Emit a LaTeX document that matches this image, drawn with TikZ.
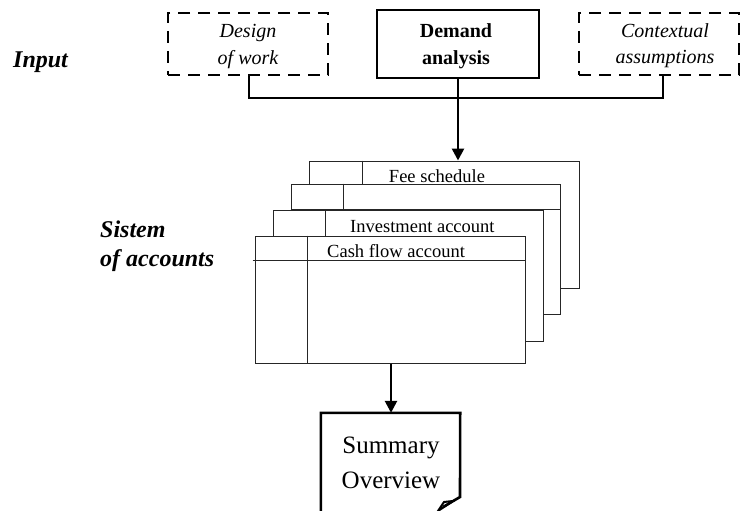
\documentclass[tikz,border=0pt]{standalone}
\usepackage{fontspec}
\setmainfont{Liberation Serif}
\usetikzlibrary{arrows.meta}
\begin{document}
\begin{tikzpicture}[x=1pt,y=-1pt,
  topbox/.style={draw, line width=2.6pt, inner sep=0pt},
  dashbox/.style={topbox, dash pattern=on 12pt off 8pt},
  toptext/.style={anchor=base, align=center, inner sep=0pt, font=\fontsize{20}{27}\selectfont},
  bus/.style={line width=2.6pt},
  flow/.style={line width=2.6pt, -{Triangle[length=12pt,width=12pt]}},
  accbox/.style={draw=black!85, line width=1pt, fill=white, inner sep=0pt, minimum width=270pt, minimum height=127pt},
  accline/.style={draw=black!85, line width=1pt},
  acctext/.style={anchor=base, inner sep=0pt, font=\fontsize{18.5}{22}\selectfont},
  sidelabel/.style={anchor=base west, inner sep=0pt, align=left, font=\fontsize{24}{29}\selectfont\bfseries\itshape}
]
\useasboundingbox (0,0) rectangle (742,511);
\clip (0,0) rectangle (742,511);

% side labels
\node[sidelabel] (input) at (13,67) {Input};
\node[sidelabel] (sistem) at (100,266) {Sistem\\of accounts};

% top boxes
\node[dashbox, minimum width=160pt, minimum height=62pt] (design) at (248,44) {};
\node[toptext, font=\fontsize{20}{27}\selectfont\itshape] (designtext) at (248,65) {Design\\of work};
\node[topbox, minimum width=162pt, minimum height=68pt] (demand) at (458,44) {};
\node[toptext, font=\fontsize{20}{27}\selectfont\bfseries] (demandtext) at (456,65) {Demand\\analysis};
\node[dashbox, minimum width=160pt, minimum height=62pt] (context) at (659,44) {};
\node[toptext, font=\fontsize{20}{27}\selectfont\itshape] (contexttext) at (665,64) {Contextual\\assumptions};

% bus
\coordinate (busl) at (249,98);
\coordinate (busr) at (663,98);
\draw[bus] (design.south -| busl) -- (busl) -- (busr) -- (context.south -| busr);

% stacked accounts
\node[accbox] (acc1) at (444,224.5) {};
\draw[accline] ([xshift=54pt]acc1.north west) -- ([xshift=54pt]acc1.south west);
\node[acctext] (fee) at (437,182) {Fee schedule};

\node[accbox, minimum width=269pt, minimum height=130pt] (acc2) at (425.5,249) {};
\draw[accline] ([xshift=53pt]acc2.north west) -- ([xshift=53pt]acc2.south west);
\draw[accline] ([yshift=-26pt]acc2.north west) -- ([yshift=-26pt]acc2.north east);

\node[accbox, minimum width=270pt, minimum height=131pt] (acc3) at (408,275.5) {};
\draw[accline] ([xshift=53pt]acc3.north west) -- ([xshift=53pt]acc3.south west);
\node[acctext, anchor=base west] (invest) at (350,232) {Investment account};

\node[accbox, minimum width=270pt, minimum height=127pt] (acc4) at (390,299.5) {};
\draw[accline] ([xshift=53pt]acc4.north west) -- ([xshift=53pt]acc4.south west);
\draw[accline] ([xshift=-2pt,yshift=-25pt]acc4.north west) -- ([yshift=-25pt]acc4.north east);
\node[acctext, anchor=base west] (cash) at (327,257) {Cash flow account};

% flows
\draw[flow] (demand.south) -- (demand.south |- acc1.north);

% summary document
\node[inner sep=0pt, minimum width=139pt, minimum height=98pt] (summary) at (390.5,462) {};
\node[anchor=base, inner sep=0pt, align=center, font=\fontsize{25}{35}\selectfont] (sumtext) at (391,488) {Summary\\Overview};
\draw[line width=2.6pt, line join=miter]
  (summary.south west) -- (summary.north west) -- (summary.north east) -- (460,497) -- (443,507);
\draw[line width=2pt, line join=miter] (444,502) -- (453,501) -- (438,511) -- cycle;

\draw[flow] (acc4.south -| sumtext) -- (summary.north -| sumtext);
\end{tikzpicture}
\end{document}
